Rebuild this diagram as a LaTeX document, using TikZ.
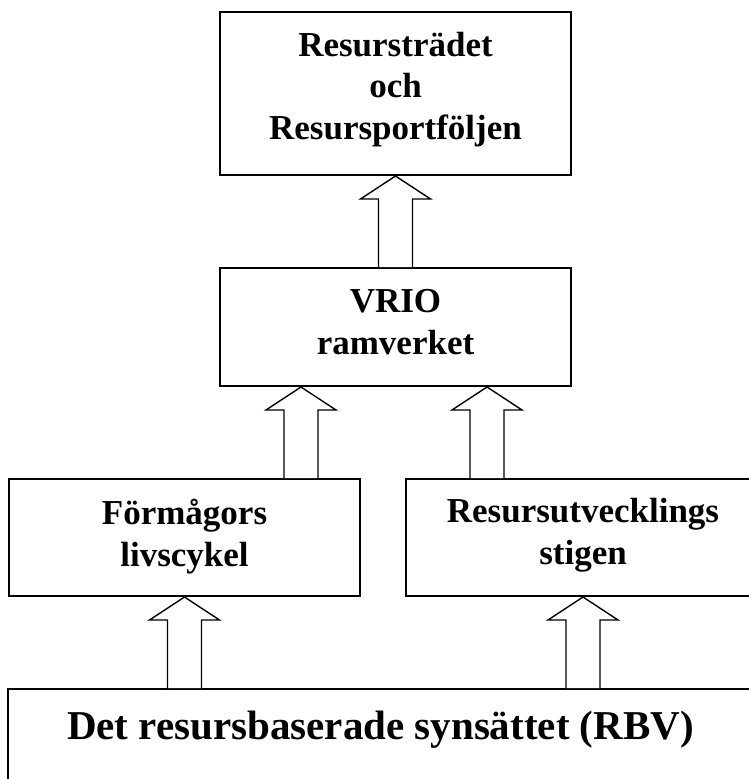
\documentclass[tikz,border=0pt]{standalone}
\usepackage{fontspec}
\setmainfont{Liberation Serif}
\usetikzlibrary{calc}
\begin{document}
\begin{tikzpicture}[x=1pt,y=-1pt,
  box/.style={draw, line width=2pt, inner sep=0pt},
  lbl/.style={anchor=base, inner sep=0pt, font=\fontsize{35}{42}\selectfont\bfseries},
  biglbl/.style={anchor=base, inner sep=0pt, font=\fontsize{41}{49}\selectfont\bfseries},
  blockup/.style={draw, line width=1.4pt, line join=miter, fill=white,
    to path={let \p1=(\tikztostart), \p2=(\tikztotarget) in
      (\x2-17pt,\y1) -- (\x2-17pt,\y2-23pt) -- (\x2-35pt,\y2-23pt) -- (\x2,\y2)
      -- (\x2+35pt,\y2-23pt) -- (\x2+17pt,\y2-23pt) -- (\x2+17pt,\y1)}}]
\useasboundingbox (0,0) rectangle (749,779);

% boxes
\node[box, minimum width=351pt, minimum height=163pt] (top) at (395.5,93.5) {};
\node[box, minimum width=351pt, minimum height=118pt] (vrio) at (395.5,327) {};
\node[box, minimum width=351pt, minimum height=117pt] (lbox) at (184.5,537.5) {};
\node[box, minimum width=354pt, minimum height=117pt] (rbox) at (583,537.5) {};
\node[box, minimum width=752pt, minimum height=112pt] (base) at (384,745) {};

% texts
\node[lbl] (t1) at ($(top.north)+(0,45)$) {Resursträdet};
\node[lbl] (t2) at ($(top.north)+(0,86.5)$) {och};
\node[lbl] (t3) at ($(top.north)+(0,128)$) {Resursportföljen};
\node[lbl] (v1) at ($(vrio.north)+(0,45)$) {VRIO};
\node[lbl] (v2) at ($(vrio.north)+(0,87)$) {ramverket};
\node[lbl] (l1) at ($(lbox.north)+(0,46)$) {Förmågors};
\node[lbl] (l2) at ($(lbox.north)+(0,88)$) {livscykel};
\node[lbl] (r1) at ($(rbox.north)+(0,44)$) {Resursutvecklings};
\node[lbl] (r2) at ($(rbox.north)+(0,86)$) {stigen};
\node[biglbl] (b1) at ($(base.north west)+(373.5,51)$) {Det resursbaserade synsättet (RBV)};

% arrow tips on the VRIO box
\coordinate (tipL) at ($(vrio.south west)+(82,0)$);
\coordinate (tipR) at ($(vrio.south west)+(268,0)$);

% block arrows
\draw[blockup] (vrio.north) to (top.south);
\draw[blockup] (tipL |- lbox.north) to (tipL);
\draw[blockup] (tipR |- rbox.north) to (tipR);
\draw[blockup] (lbox.south |- base.north) to (lbox.south);
\draw[blockup] (rbox.south |- base.north) to (rbox.south);
\end{tikzpicture}
\end{document}
